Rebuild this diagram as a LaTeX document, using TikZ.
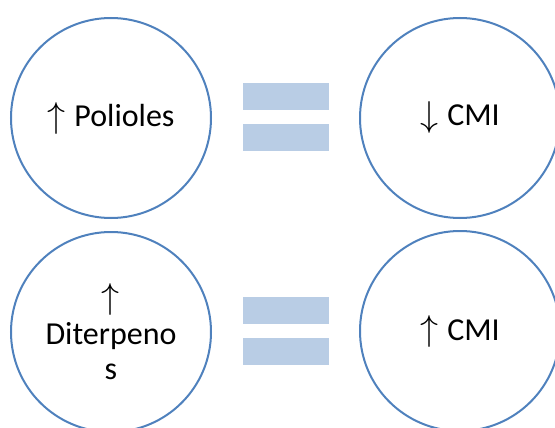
\documentclass[tikz,border=0pt]{standalone}
\usepackage{fontspec}
\usepackage{graphicx}
\setmainfont{Carlito}
\definecolor{ringblue}{RGB}{79,129,189}
\definecolor{barblue}{RGB}{185,205,229}
\newcommand{\upar}{\resizebox{!}{25pt}{$\uparrow$}}
\newcommand{\dnar}{\raisebox{-1pt}{\resizebox{!}{25pt}{$\downarrow$}}}
\begin{document}
\begin{tikzpicture}[x=1pt,y=-1pt,
  ring/.style={circle,draw=ringblue,line width=2pt,minimum size=200pt,inner sep=0pt,
    align=center,font=\fontsize{32}{35.5}\selectfont},
  bar/.style={rectangle,fill=barblue,draw=none,minimum width=86pt,minimum height=27pt,inner sep=0pt}]
\useasboundingbox (0,0) rectangle (555,428);
\clip (0,0) rectangle (555,428);
\node[ring] (pol) at (111,118) {\upar\hspace{9pt}Polioles};
\node[ring] (cmi1) at (460,118) {\dnar\hspace{9pt}CMI};
\node[ring] (dit) at (111,332) {\upar\\Diterpeno\\s};
\node[ring] (cmi2) at (460,331) {\upar\hspace{9pt}CMI};
\node[bar] (e1a) at (285.5,96.5) {};
\node[bar] (e1b) at (285.5,137.5) {};
\node[bar] (e2a) at (285.5,310.5) {};
\node[bar] (e2b) at (285.5,351.5) {};
\end{tikzpicture}
\end{document}
